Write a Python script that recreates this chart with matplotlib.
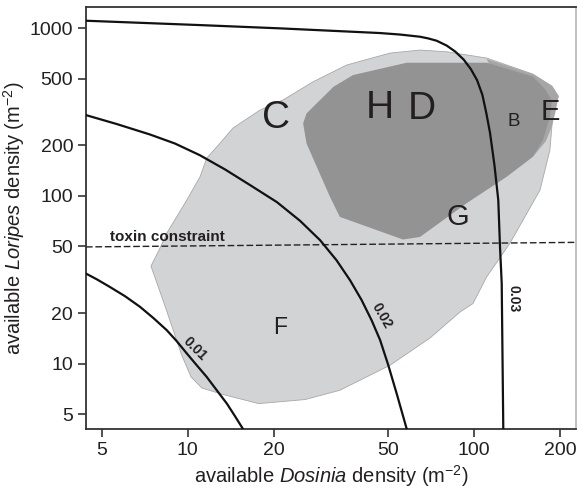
import matplotlib
matplotlib.use('Agg')
import matplotlib.pyplot as plt
from matplotlib.patches import Polygon

plt.rcParams['font.family'] = ['Liberation Sans', 'DejaVu Sans']
plt.rcParams['mathtext.fontset'] = 'custom'
plt.rcParams['mathtext.rm'] = 'Liberation Sans'
plt.rcParams['mathtext.it'] = 'Liberation Sans:italic'

# isoline curves (Dosinia, Loripes)
iso01_D = [4.41, 4.81, 5.35, 6.04, 6.81, 7.58, 8.45, 9.15, 9.92, 10.75, 11.65, 12.63, 13.7, 14.63, 15.6]
iso01_L = [34.4, 31.8, 28.6, 25.2, 21.8, 18.7, 15.8, 13.6, 11.5, 9.77, 8.32, 6.93, 5.77, 4.85, 4.07]
iso02_D = [4.41, 5.65, 7.39, 9.03, 11.0, 13.5, 16.5, 20.5, 24.7, 29.0, 33.1, 36.9, 40.5, 43.9,
           47.0, 50.2, 53.7, 58.2]
iso02_L = [303, 268, 232, 205, 175, 143.7, 116, 91.7, 70.9, 54.4, 41.3, 31.4, 23.9, 18.1,
           13.8, 9.77, 6.62, 4.08]
iso03_D = [4.41, 11.0, 21.0, 46.9, 55.1, 64.7, 69.1, 74.1, 80.3, 86.0, 92.0, 97.5, 102.5, 107.0,
           110.5, 113.8, 117.9, 121.6, 123.3, 125, 126.6]
iso03_L = [1107, 1043, 997, 935, 916, 889, 869, 841, 787, 725, 650, 570, 490, 400,
           310, 237, 152.5, 94.3, 49.6, 30.1, 4.07]

# toxin constraint
toxin_D = [4.41, 228]
toxin_L = [49.6, 52.8]

# light grey area
light_D = [7.44, 8.00, 8.45, 9.92, 11.04, 11.65, 12.97, 14.39, 17.88, 21.5, 27.4, 35.9, 50.9, 64.8,
           80.3, 110.8, 160.7, 187.3, 197.3, 188.8, 184.2, 170.1, 133.6, 110.8, 99.2, 89.4, 70.2,
           50.9, 34.0, 25.7, 17.7, 13.2, 11.2, 10.27, 9.53, 8.38]
light_L = [38.1, 48.8, 59.9, 94.3, 129.9, 167.9, 206, 253.6, 324.6, 372.4, 478.6, 602.4, 710, 740,
           723, 663, 532, 451, 393, 311, 187.4, 108.2, 52.2, 32.9, 22.8, 20.3, 14.2,
           9.77, 6.93, 6.10, 5.77, 6.56, 7.15, 8.32, 11.2, 21.4]

# mid grey sliver near E
mid_D = [110.8, 160.7, 187.3, 197.3, 193.4, 186.8, 178.4, 160.7]
mid_L = [654, 532, 451, 393, 325, 257, 212, 171]

# dark grey area
dark_D = [25.3, 26.0, 32.3, 37.8, 58.2, 110.8, 160.7, 178.4, 187.3, 184.2, 174.2, 160.7, 130.1,
          94.3, 64.8, 56.5, 34.0, 31.4, 26.0]
dark_L = [270.4, 310, 447, 525, 622, 622, 514, 427, 367, 296, 215, 171, 129.9,
          90.4, 56.9, 54.9, 74.9, 98.6, 205.4]

# site letters
site_names = ['C', 'H', 'D', 'B', 'E', 'G', 'F']
site_D = [20.3, 47.0, 65.7, 137.9, 184.2, 88.1, 21.1]
site_L = [290.8, 332, 328, 276, 317, 74.9, 16.5]
site_size = [28, 28, 28, 13.5, 21, 21, 16.5]

fig = plt.figure(figsize=(5.77, 4.92), dpi=100)
ax = fig.add_axes([0.1485, 0.128, 0.8505, 0.8578])
ax.set_xscale('log')
ax.set_yscale('log')

ax.add_patch(Polygon(list(zip(light_D, light_L)), closed=True, facecolor='#d2d3d5',
                     edgecolor='#a8a8a8', lw=0.6, zorder=1))
ax.add_patch(Polygon(list(zip(mid_D, mid_L)), closed=True, facecolor='#a6a6a6',
                     edgecolor='none', zorder=2))
ax.add_patch(Polygon(list(zip(dark_D, dark_L)), closed=True, facecolor='#939393',
                     edgecolor='none', zorder=3))

ax.plot(toxin_D, toxin_L, color='#222222', lw=1.0, dashes=(4.8, 2), zorder=4)
for d, l in [(iso01_D, iso01_L), (iso02_D, iso02_L), (iso03_D, iso03_L)]:
    ax.plot(d, l, color='#111111', lw=1.6, zorder=5, solid_joinstyle='round')

for name, d, l, s in zip(site_names, site_D, site_L, site_size):
    ax.text(d, l, name, fontsize=s, ha='center', va='center', color='#231f20', zorder=6)

ax.text(5.35, 51.5, 'toxin constraint', fontsize=11, fontweight='bold', ha='left',
        va='bottom', color='#231f20', zorder=6)
ax.text(10.6, 12.3, '0.01', fontsize=10, fontweight='bold', rotation=-45,
        ha='center', va='center', color='#231f20', zorder=6)
ax.text(47.5, 19.2, '0.02', fontsize=10, fontweight='bold', rotation=-60,
        ha='center', va='center', color='#231f20', zorder=6)
ax.text(137.2, 24.4, '0.03', fontsize=10, fontweight='bold', rotation=-90,
        ha='center', va='center', color='#231f20', zorder=6)

ax.set_xlim(4.40, 228)
ax.set_ylim(4.07, 1337)
xt = [5, 10, 20, 50, 100, 200]
yt = [5, 10, 20, 50, 100, 200, 500, 1000]
ax.set_xticks(xt)
ax.set_xticklabels([str(v) for v in xt])
ax.set_yticks(yt)
ax.set_yticklabels([str(v) for v in yt])
ax.minorticks_off()
ax.tick_params(labelsize=14, length=6, width=1.2, color='#333333', labelcolor='#231f20', pad=3)
for sp in ax.spines.values():
    sp.set_linewidth(1.3)
    sp.set_color('#333333')
ax.spines['right'].set_color('#bbbbbb')

ax.set_xlabel(r'available $\it{Dosinia}$ density (m$^{-2}$)', fontsize=14.5, color='#231f20', labelpad=3)
ax.set_ylabel(r'available $\it{Loripes}$ density (m$^{-2}$)', fontsize=14.5, color='#231f20', labelpad=2)

fig.savefig('out.png', dpi=100)
